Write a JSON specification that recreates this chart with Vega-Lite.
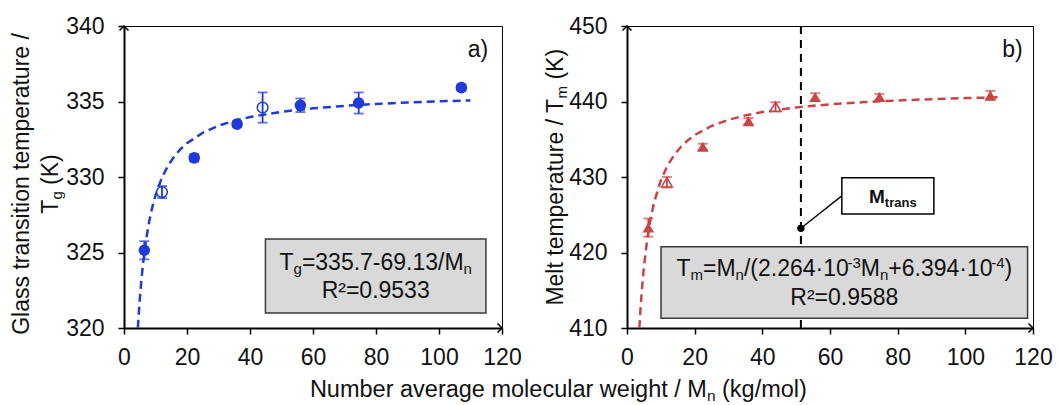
{
  "$schema": "https://vega.github.io/schema/vega-lite/v6.json",
  "padding": {"left": 10, "top": 14, "right": 5, "bottom": 6},
  "background": "white",
  "spacing": 125,
  "bounds": "flush",
  "config": {
    "font": "Liberation Sans",
    "view": {"stroke": "black", "strokeWidth": 1},
    "text": {"font": "Liberation Sans", "color": "#111111", "fontSize": 23, "baseline": "alphabetic"},
    "axis": {"title": null, "grid": false, "domainColor": "black", "domainWidth": 2, "tickColor": "black", "tickWidth": 1.5, "tickSize": 6, "labelFontSize": 23, "labelColor": "#111111", "labelFont": "Liberation Sans", "labelFlush": false, "labelOverlap": false},
    "axisX": {"labelPadding": 12},
    "axisY": {"labelPadding": 14}
  },
  "datasets": {
    "tg": [
      {"x": 6.45, "y": 325.15, "lo": 324.55, "hi": 325.75, "open": 0},
      {"x": 12.06, "y": 329.0, "lo": 328.6, "hi": 329.4, "open": 1},
      {"x": 22.3, "y": 331.27, "lo": 331.02, "hi": 331.52, "open": 0},
      {"x": 35.9, "y": 333.5, "lo": 333.3, "hi": 333.7, "open": 0},
      {"x": 44.0, "y": 334.6, "lo": 333.6, "hi": 335.6, "open": 1},
      {"x": 56.0, "y": 334.75, "lo": 334.3, "hi": 335.2, "open": 0},
      {"x": 74.5, "y": 334.9, "lo": 334.2, "hi": 335.6, "open": 0},
      {"x": 107.1, "y": 335.92, "lo": 335.72, "hi": 336.12, "open": 0}
    ],
    "tgfit": [
      {"x": 4.41, "y": 320.02}, {"x": 4.6, "y": 320.67}, {"x": 5, "y": 321.87}, {"x": 5.5, "y": 323.13},
      {"x": 6, "y": 324.18}, {"x": 7, "y": 325.82}, {"x": 8, "y": 327.06}, {"x": 9, "y": 328.02},
      {"x": 10, "y": 328.79}, {"x": 12, "y": 329.94}, {"x": 14, "y": 330.76}, {"x": 16, "y": 331.38},
      {"x": 18, "y": 331.86}, {"x": 20, "y": 332.24}, {"x": 25, "y": 332.93}, {"x": 30, "y": 333.40},
      {"x": 35, "y": 333.72}, {"x": 40, "y": 333.97}, {"x": 50, "y": 334.32}, {"x": 60, "y": 334.55},
      {"x": 70, "y": 334.71}, {"x": 80, "y": 334.84}, {"x": 90, "y": 334.93}, {"x": 100, "y": 335.01},
      {"x": 110, "y": 335.07}
    ],
    "tm": [
      {"x": 6.3, "y": 423.3, "lo": 422.1, "hi": 424.5, "open": 0},
      {"x": 11.8, "y": 429.3, "lo": 428.6, "hi": 430.0, "open": 1},
      {"x": 22.4, "y": 434.0, "lo": 433.6, "hi": 434.4, "open": 0},
      {"x": 35.9, "y": 437.4, "lo": 437.0, "hi": 437.8, "open": 0},
      {"x": 43.9, "y": 439.3, "lo": 438.7, "hi": 439.9, "open": 1},
      {"x": 55.6, "y": 440.6, "lo": 440.1, "hi": 441.1, "open": 0},
      {"x": 74.6, "y": 440.6, "lo": 440.2, "hi": 441.0, "open": 0},
      {"x": 107.4, "y": 440.8, "lo": 440.2, "hi": 441.4, "open": 0}
    ],
    "tmfit": [
      {"x": 3.65, "y": 409.98}, {"x": 4, "y": 412.57}, {"x": 4.5, "y": 415.61}, {"x": 5, "y": 418.08},
      {"x": 6, "y": 421.84}, {"x": 7, "y": 424.57}, {"x": 8, "y": 426.63}, {"x": 10, "y": 429.56},
      {"x": 12, "y": 431.54}, {"x": 14, "y": 432.96}, {"x": 16, "y": 434.03}, {"x": 18, "y": 434.87},
      {"x": 20, "y": 435.55}, {"x": 25, "y": 436.76}, {"x": 30, "y": 437.58}, {"x": 35, "y": 438.16},
      {"x": 40, "y": 438.60}, {"x": 50, "y": 439.22}, {"x": 60, "y": 439.63}, {"x": 70, "y": 439.92},
      {"x": 80, "y": 440.14}, {"x": 90, "y": 440.31}, {"x": 100, "y": 440.45}, {"x": 110, "y": 440.56}
    ],
    "one": [{}]
  },
  "hconcat": [
    {
      "width": 378,
      "height": 302,
      "encoding": {
        "x": {"type": "quantitative", "scale": {"domain": [0, 120], "nice": false, "zero": false}, "axis": {"values": [0, 20, 40, 60, 80, 100, 120]}, "title": null},
        "y": {"type": "quantitative", "scale": {"domain": [320, 340], "nice": false, "zero": false}, "axis": {"values": [320, 325, 330, 335, 340]}, "title": null}
      },
      "layer": [
        {
          "data": {"name": "one"},
          "mark": {"type": "rect", "fill": "#d9d9d9", "stroke": "#3a3a3a", "strokeWidth": 1.5},
          "encoding": {"x": {"datum": 44.9}, "x2": {"datum": 114.9}, "y": {"datum": 325.9}, "y2": {"datum": 321.0}}
        },
        {
          "data": {"name": "tgfit"},
          "mark": {"type": "line", "stroke": "#1f3ad9", "strokeWidth": 2.5, "strokeDash": [8, 5]},
          "encoding": {"x": {"field": "x"}, "y": {"field": "y"}}
        },
        {
          "data": {"name": "tg"},
          "transform": [{"filter": "datum.open == 0"}],
          "mark": {"type": "point", "shape": "circle", "filled": true, "size": 135, "color": "#1f3ad9", "opacity": 1},
          "encoding": {"x": {"field": "x"}, "y": {"field": "y"}}
        },
        {
          "data": {"name": "tg"},
          "transform": [{"filter": "datum.open == 1"}],
          "mark": {"type": "point", "shape": "circle", "filled": true, "size": 115, "fill": "white", "stroke": "#1f3ad9", "strokeWidth": 1.5, "opacity": 1},
          "encoding": {"x": {"field": "x"}, "y": {"field": "y"}}
        },
        {
          "data": {"name": "tg"},
          "mark": {"type": "errorbar", "color": "#1f3ad9", "thickness": 1.8, "ticks": {"size": 10}},
          "encoding": {"x": {"field": "x"}, "y": {"field": "lo"}, "y2": {"field": "hi"}}
        },
        {
          "data": {"name": "one"},
          "mark": {"type": "point", "shape": "M -1 1 L 0 0 L 1 1", "filled": false, "size": 81, "color": "black", "strokeWidth": 1.5, "opacity": 1},
          "encoding": {"x": {"datum": 0}, "y": {"datum": 340}}
        },
        {
          "data": {"name": "one"},
          "mark": {"type": "point", "shape": "M -1 -1 L 0 0 L -1 1", "filled": false, "size": 81, "color": "black", "strokeWidth": 1.5, "opacity": 1},
          "encoding": {"x": {"datum": 120}, "y": {"datum": 320}}
        },
        {
          "data": {"name": "one"},
          "mark": {"type": "text", "text": "a)", "align": "right"},
          "encoding": {"x": {"datum": 115.6}, "y": {"datum": 337.96}}
        },
        {
          "data": {"name": "one"},
          "mark": {"type": "text", "text": "T", "align": "left", "dx": -96.2},
          "encoding": {"x": {"datum": 79.9}, "y": {"datum": 323.82}}
        },
        {
          "data": {"name": "one"},
          "mark": {"type": "text", "text": "g", "align": "left", "dx": -82.15, "dy": 4, "fontSize": 15},
          "encoding": {"x": {"datum": 79.9}, "y": {"datum": 323.82}}
        },
        {
          "data": {"name": "one"},
          "mark": {"type": "text", "text": "=335.7-69.13/M", "align": "left", "dx": -73.8},
          "encoding": {"x": {"datum": 79.9}, "y": {"datum": 323.82}}
        },
        {
          "data": {"name": "one"},
          "mark": {"type": "text", "text": "n", "align": "left", "dx": 87.9, "dy": 4, "fontSize": 15},
          "encoding": {"x": {"datum": 79.9}, "y": {"datum": 323.82}}
        },
        {
          "data": {"name": "one"},
          "mark": {"type": "text", "text": "R²=0.9533", "align": "center"},
          "encoding": {"x": {"datum": 79.9}, "y": {"datum": 321.99}}
        },
        {
          "data": {"name": "one"},
          "mark": {"type": "text", "text": "Glass transition temperature /", "align": "center", "angle": 270},
          "encoding": {"x": {"datum": -30.06}, "y": {"datum": 329.54}}
        },
        {
          "data": {"name": "one"},
          "mark": {"type": "text", "text": "T", "align": "left", "angle": 270, "dx": -29.72},
          "encoding": {"x": {"datum": -21.05}, "y": {"datum": 329.54}}
        },
        {
          "data": {"name": "one"},
          "mark": {"type": "text", "text": "g", "align": "left", "angle": 270, "dx": -15.67, "dy": 4, "fontSize": 15},
          "encoding": {"x": {"datum": -21.05}, "y": {"datum": 329.54}}
        },
        {
          "data": {"name": "one"},
          "mark": {"type": "text", "text": "(K)", "align": "left", "angle": 270, "dx": -0.94},
          "encoding": {"x": {"datum": -21.05}, "y": {"datum": 329.54}}
        },
        {
          "data": {"name": "one"},
          "mark": {"type": "text", "text": "Number average molecular weight / M", "align": "left", "dx": -248.5, "fontSize": 23.5},
          "encoding": {"x": {"datum": 137.9}, "y": {"datum": 315.4}}
        },
        {
          "data": {"name": "one"},
          "mark": {"type": "text", "text": "n", "align": "left", "dx": 148.5, "dy": 4, "fontSize": 15.5},
          "encoding": {"x": {"datum": 137.9}, "y": {"datum": 315.4}}
        },
        {
          "data": {"name": "one"},
          "mark": {"type": "text", "text": "(kg/mol)", "align": "left", "dx": 163.6, "fontSize": 23.5},
          "encoding": {"x": {"datum": 137.9}, "y": {"datum": 315.4}}
        }
      ]
    },
    {
      "width": 406,
      "height": 302,
      "encoding": {
        "x": {"type": "quantitative", "scale": {"domain": [0, 120], "nice": false, "zero": false}, "axis": {"values": [0, 20, 40, 60, 80, 100, 120]}, "title": null},
        "y": {"type": "quantitative", "scale": {"domain": [410, 450], "nice": false, "zero": false}, "axis": {"values": [410, 420, 430, 440, 450]}, "title": null}
      },
      "layer": [
        {
          "data": {"name": "one"},
          "mark": {"type": "rule", "stroke": "black", "strokeWidth": 2, "strokeDash": [8, 6]},
          "encoding": {"x": {"datum": 51.4}, "y": {"datum": 410}, "y2": {"datum": 450}}
        },
        {
          "data": {"name": "one"},
          "mark": {"type": "rect", "fill": "#d9d9d9", "stroke": "#3a3a3a", "strokeWidth": 1.5},
          "encoding": {"x": {"datum": 10.05}, "x2": {"datum": 118.4}, "y": {"datum": 420.76}, "y2": {"datum": 411.3}}
        },
        {
          "data": {"name": "tmfit"},
          "mark": {"type": "line", "stroke": "#c94545", "strokeWidth": 2.5, "strokeDash": [8, 5]},
          "encoding": {"x": {"field": "x"}, "y": {"field": "y"}}
        },
        {
          "data": {"name": "tm"},
          "transform": [{"filter": "datum.open == 0"}],
          "mark": {"type": "point", "shape": "triangle-up", "filled": true, "size": 135, "color": "#c94545", "opacity": 1},
          "encoding": {"x": {"field": "x"}, "y": {"field": "y"}}
        },
        {
          "data": {"name": "tm"},
          "transform": [{"filter": "datum.open == 1"}],
          "mark": {"type": "point", "shape": "triangle-up", "filled": true, "size": 120, "fill": "white", "stroke": "#c94545", "strokeWidth": 1.5, "opacity": 1},
          "encoding": {"x": {"field": "x"}, "y": {"field": "y"}}
        },
        {
          "data": {"name": "tm"},
          "mark": {"type": "errorbar", "color": "#c94545", "thickness": 1.8, "ticks": {"size": 10}},
          "encoding": {"x": {"field": "x"}, "y": {"field": "lo"}, "y2": {"field": "hi"}}
        },
        {
          "data": {"name": "one"},
          "mark": {"type": "rule", "stroke": "black", "strokeWidth": 1.3},
          "encoding": {"x": {"datum": 51.4}, "x2": {"datum": 63.5}, "y": {"datum": 423.2}, "y2": {"datum": 427.5}}
        },
        {
          "data": {"name": "one"},
          "mark": {"type": "point", "shape": "circle", "filled": true, "size": 55, "color": "black", "opacity": 1},
          "encoding": {"x": {"datum": 51.4}, "y": {"datum": 423.2}}
        },
        {
          "data": {"name": "one"},
          "mark": {"type": "rect", "fill": "white", "stroke": "black", "strokeWidth": 1.5},
          "encoding": {"x": {"datum": 63.5}, "x2": {"datum": 90.7}, "y": {"datum": 429.9}, "y2": {"datum": 425.1}}
        },
        {
          "data": {"name": "one"},
          "mark": {"type": "text", "text": "M", "align": "left", "dx": -23.9, "fontSize": 19, "fontWeight": "bold"},
          "encoding": {"x": {"datum": 78.6}, "y": {"datum": 426.5}}
        },
        {
          "data": {"name": "one"},
          "mark": {"type": "text", "text": "trans", "align": "left", "dx": -8.1, "dy": 4, "fontSize": 13, "fontWeight": "bold"},
          "encoding": {"x": {"datum": 78.6}, "y": {"datum": 426.5}}
        },
        {"data": {"name": "one"}, "mark": {"type": "text", "text": "T", "align": "left", "dx": -167.9}, "encoding": {"x": {"datum": 64.23}, "y": {"datum": 416.84}}},
        {"data": {"name": "one"}, "mark": {"type": "text", "text": "m", "align": "left", "dx": -153.85, "dy": 4, "fontSize": 15}, "encoding": {"x": {"datum": 64.23}, "y": {"datum": 416.84}}},
        {"data": {"name": "one"}, "mark": {"type": "text", "text": "=M", "align": "left", "dx": -141.35}, "encoding": {"x": {"datum": 64.23}, "y": {"datum": 416.84}}},
        {"data": {"name": "one"}, "mark": {"type": "text", "text": "n", "align": "left", "dx": -108.75, "dy": 4, "fontSize": 15}, "encoding": {"x": {"datum": 64.23}, "y": {"datum": 416.84}}},
        {"data": {"name": "one"}, "mark": {"type": "text", "text": "/(2.264·10", "align": "left", "dx": -100.41}, "encoding": {"x": {"datum": 64.23}, "y": {"datum": 416.84}}},
        {"data": {"name": "one"}, "mark": {"type": "text", "text": "-3", "align": "left", "dx": 3.19, "dy": -8, "fontSize": 15}, "encoding": {"x": {"datum": 64.23}, "y": {"datum": 416.84}}},
        {"data": {"name": "one"}, "mark": {"type": "text", "text": "M", "align": "left", "dx": 16.49}, "encoding": {"x": {"datum": 64.23}, "y": {"datum": 416.84}}},
        {"data": {"name": "one"}, "mark": {"type": "text", "text": "n", "align": "left", "dx": 35.69, "dy": 4, "fontSize": 15}, "encoding": {"x": {"datum": 64.23}, "y": {"datum": 416.84}}},
        {"data": {"name": "one"}, "mark": {"type": "text", "text": "+6.394·10", "align": "left", "dx": 44.03}, "encoding": {"x": {"datum": 64.23}, "y": {"datum": 416.84}}},
        {"data": {"name": "one"}, "mark": {"type": "text", "text": "-4", "align": "left", "dx": 146.93, "dy": -8, "fontSize": 15}, "encoding": {"x": {"datum": 64.23}, "y": {"datum": 416.84}}},
        {"data": {"name": "one"}, "mark": {"type": "text", "text": ")", "align": "left", "dx": 160.23}, "encoding": {"x": {"datum": 64.23}, "y": {"datum": 416.84}}},
        {
          "data": {"name": "one"},
          "mark": {"type": "text", "text": "R²=0.9588", "align": "center"},
          "encoding": {"x": {"datum": 64.23}, "y": {"datum": 413.07}}
        },
        {
          "data": {"name": "one"},
          "mark": {"type": "text", "text": "b)", "align": "right"},
          "encoding": {"x": {"datum": 116.97}, "y": {"datum": 445.96}}
        },
        {
          "data": {"name": "one"},
          "mark": {"type": "text", "text": "Melt temperature / T", "align": "left", "angle": 270, "dx": -128.3},
          "encoding": {"x": {"datum": -19.0}, "y": {"datum": 429.96}}
        },
        {
          "data": {"name": "one"},
          "mark": {"type": "text", "text": "m", "align": "left", "angle": 270, "dx": 78.8, "dy": 4, "fontSize": 15},
          "encoding": {"x": {"datum": -19.0}, "y": {"datum": 429.96}}
        },
        {
          "data": {"name": "one"},
          "mark": {"type": "text", "text": "(K)", "align": "left", "angle": 270, "dx": 97.7},
          "encoding": {"x": {"datum": -19.0}, "y": {"datum": 429.96}}
        },
        {
          "data": {"name": "one"},
          "mark": {"type": "point", "shape": "M -1 1 L 0 0 L 1 1", "filled": false, "size": 81, "color": "black", "strokeWidth": 1.5, "opacity": 1},
          "encoding": {"x": {"datum": 0}, "y": {"datum": 450}}
        },
        {
          "data": {"name": "one"},
          "mark": {"type": "point", "shape": "M -1 -1 L 0 0 L -1 1", "filled": false, "size": 81, "color": "black", "strokeWidth": 1.5, "opacity": 1},
          "encoding": {"x": {"datum": 120}, "y": {"datum": 410}}
        }
      ]
    }
  ]
}
